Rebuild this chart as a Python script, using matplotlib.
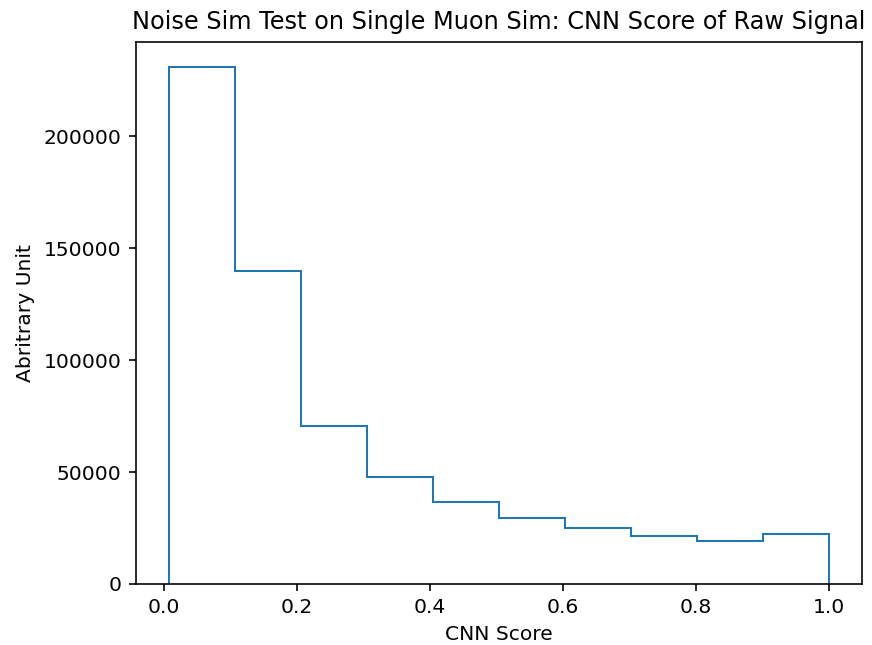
import numpy as np
import matplotlib.pyplot as plt

# CNN score histogram (10 bins over the observed score range)
bin_edges = np.linspace(0.007, 1.0, 11)
counts = [230800, 139800, 70700, 47800, 36600, 29400, 24800, 21500, 19400, 22200]

s = 1.46  # scale factor for sizes at dpi 100
plt.rcParams['font.size'] = 10 * s

fig = plt.figure(figsize=(8.72, 6.45), dpi=100)
ax = fig.add_axes([0.1554, 0.0946, 0.8326, 0.841])

ax.hist(bin_edges[:-1], bins=bin_edges, weights=counts, histtype='step',
        linewidth=1.0 * s)

ax.set_title("Noise Sim Test on Single Muon Sim: CNN Score of Raw Signal",
             fontsize=17.3, pad=6 * s)
ax.set_xlabel("CNN Score", labelpad=4 * s)
ax.set_ylabel("Abritrary Unit", labelpad=4 * s)

for sp in ax.spines.values():
    sp.set_linewidth(0.8 * s)
ax.tick_params(width=0.8 * s, length=3.5 * s, pad=3.5 * s)

fig.savefig("out.png", dpi=100)
